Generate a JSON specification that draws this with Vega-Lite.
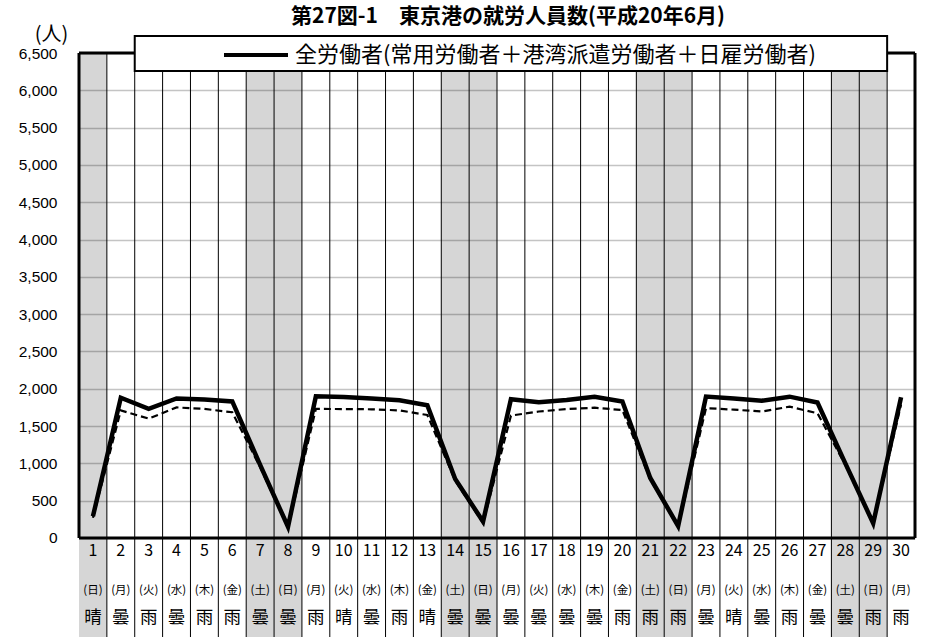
{
  "$schema": "https://vega.github.io/schema/vega-lite/v6.json",
  "autosize": {"type": "none"},
  "padding": {"left": 79, "top": 53, "right": 11, "bottom": 0},
  "width": 836,
  "height": 584,
  "background": "white",
  "title": {
    "text": "第27図-1　東京港の就労人員数(平成20年6月)",
    "font": "Noto Sans CJK JP",
    "fontSize": 21,
    "fontWeight": "bold",
    "color": "#000000",
    "anchor": "middle",
    "frame": "group",
    "dx": 11,
    "dy": 6,
    "offset": 0
  },
  "config": {
    "view": {"stroke": null}
  },
  "data": {
    "values": [
      {"day": 1, "dow": "(日)", "wx": "晴", "weekend": true, "all": 290, "sub": 270},
      {"day": 2, "dow": "(月)", "wx": "曇", "weekend": false, "all": 1880, "sub": 1710},
      {"day": 3, "dow": "(火)", "wx": "雨", "weekend": false, "all": 1730, "sub": 1600},
      {"day": 4, "dow": "(水)", "wx": "曇", "weekend": false, "all": 1870, "sub": 1750},
      {"day": 5, "dow": "(木)", "wx": "雨", "weekend": false, "all": 1855, "sub": 1730},
      {"day": 6, "dow": "(金)", "wx": "雨", "weekend": false, "all": 1830, "sub": 1685},
      {"day": 7, "dow": "(土)", "wx": "曇", "weekend": true, "all": 980, "sub": 950},
      {"day": 8, "dow": "(日)", "wx": "曇", "weekend": true, "all": 150, "sub": 140},
      {"day": 9, "dow": "(月)", "wx": "雨", "weekend": false, "all": 1900, "sub": 1730},
      {"day": 10, "dow": "(火)", "wx": "晴", "weekend": false, "all": 1890, "sub": 1728},
      {"day": 11, "dow": "(水)", "wx": "曇", "weekend": false, "all": 1870, "sub": 1725},
      {"day": 12, "dow": "(木)", "wx": "雨", "weekend": false, "all": 1845, "sub": 1710},
      {"day": 13, "dow": "(金)", "wx": "晴", "weekend": false, "all": 1780, "sub": 1648},
      {"day": 14, "dow": "(土)", "wx": "曇", "weekend": true, "all": 790, "sub": 770},
      {"day": 15, "dow": "(日)", "wx": "曇", "weekend": true, "all": 220, "sub": 200},
      {"day": 16, "dow": "(月)", "wx": "曇", "weekend": false, "all": 1860, "sub": 1640},
      {"day": 17, "dow": "(火)", "wx": "曇", "weekend": false, "all": 1820, "sub": 1695},
      {"day": 18, "dow": "(水)", "wx": "曇", "weekend": false, "all": 1850, "sub": 1728},
      {"day": 19, "dow": "(木)", "wx": "曇", "weekend": false, "all": 1893, "sub": 1746},
      {"day": 20, "dow": "(金)", "wx": "雨", "weekend": false, "all": 1828, "sub": 1715},
      {"day": 21, "dow": "(土)", "wx": "雨", "weekend": true, "all": 805, "sub": 785},
      {"day": 22, "dow": "(日)", "wx": "雨", "weekend": true, "all": 160, "sub": 150},
      {"day": 23, "dow": "(月)", "wx": "曇", "weekend": false, "all": 1895, "sub": 1740},
      {"day": 24, "dow": "(火)", "wx": "晴", "weekend": false, "all": 1870, "sub": 1720},
      {"day": 25, "dow": "(水)", "wx": "曇", "weekend": false, "all": 1840, "sub": 1695},
      {"day": 26, "dow": "(木)", "wx": "雨", "weekend": false, "all": 1894, "sub": 1760},
      {"day": 27, "dow": "(金)", "wx": "曇", "weekend": false, "all": 1815, "sub": 1672},
      {"day": 28, "dow": "(土)", "wx": "曇", "weekend": true, "all": 1000, "sub": 980},
      {"day": 29, "dow": "(日)", "wx": "雨", "weekend": true, "all": 197, "sub": 190},
      {"day": 30, "dow": "(月)", "wx": "雨", "weekend": false, "all": 1885, "sub": 1790}
    ]
  },
  "layer": [
    {
      "mark": {"type": "line", "strokeWidth": 4.5, "opacity": 0},
      "encoding": {
        "x": {"field": "day", "type": "ordinal", "axis": null, "bandPosition": 0.5, "scale": {"type": "band", "paddingInner": 0, "paddingOuter": 0}},
        "y": {
          "field": "all",
          "type": "quantitative",
          "title": "(人)",
          "scale": {"domain": [-1327, 6500], "nice": false, "zero": false},
          "axis": {
            "values": [0, 500, 1000, 1500, 2000, 2500, 3000, 3500, 4000, 4500, 5000, 5500, 6000, 6500],
            "format": ",d",
            "labelFont": "Liberation Sans",
            "labelFontSize": 15.5,
            "labelColor": "#000000",
            "labelPadding": 22,
            "domain": false,
            "ticks": false,
            "grid": true,
            "gridColor": "#c4c4c4",
            "gridWidth": 1.5,
            "title": "(人)",
            "titleFont": "Noto Sans CJK JP",
            "titleFontSize": 20,
            "titleFontWeight": "normal",
            "titleColor": "#000000",
            "titleAngle": 0,
            "titleAlign": "center",
            "titleBaseline": "middle",
            "titleX": -28,
            "titleY": -19
          }
        }
      }
    },
    {
      "transform": [{"filter": "datum.weekend"}],
      "mark": {"type": "rect", "fill": "#000000", "fillOpacity": 0.16},
      "encoding": {
        "x": {"field": "day", "type": "ordinal", "axis": null}
      }
    },
    {
      "transform": [{"filter": "datum.day > 1"}],
      "mark": {"type": "rule", "stroke": "#000000", "strokeWidth": 1},
      "encoding": {
        "x": {"field": "day", "type": "ordinal", "axis": null, "bandPosition": 0}
      }
    },
    {
      "data": {"values": [{}]},
      "mark": {"type": "rule", "stroke": "#000000", "strokeWidth": 3},
      "encoding": {
        "y": {"datum": 0, "type": "quantitative"}
      }
    },
    {
      "data": {"values": [{}]},
      "mark": {"type": "rule", "stroke": "#000000", "strokeWidth": 3},
      "encoding": {
        "y": {"datum": 6500, "type": "quantitative"}
      }
    },
    {
      "data": {"values": [{}]},
      "mark": {"type": "rule", "stroke": "#000000", "strokeWidth": 3},
      "encoding": {
        "x": {"datum": 1, "type": "ordinal", "axis": null, "bandPosition": 0},
        "y": {"datum": 0, "type": "quantitative"},
        "y2": {"datum": 6500}
      }
    },
    {
      "data": {"values": [{}]},
      "mark": {"type": "rule", "stroke": "#000000", "strokeWidth": 3},
      "encoding": {
        "x": {"datum": 30, "type": "ordinal", "axis": null, "bandPosition": 1},
        "y": {"datum": 0, "type": "quantitative"},
        "y2": {"datum": 6500}
      }
    },
    {
      "mark": {"type": "line", "stroke": "#000000", "strokeWidth": 2.2, "strokeDash": [7, 4]},
      "encoding": {
        "x": {"field": "day", "type": "ordinal", "axis": null, "bandPosition": 0.5},
        "y": {"field": "sub", "type": "quantitative"}
      }
    },
    {
      "mark": {"type": "line", "strokeWidth": 4.5, "strokeJoin": "miter"},
      "encoding": {
        "x": {"field": "day", "type": "ordinal", "axis": null, "bandPosition": 0.5},
        "y": {"field": "all", "type": "quantitative"},
        "stroke": {
          "datum": "全労働者(常用労働者＋港湾派遣労働者＋日雇労働者)",
          "type": "nominal",
          "scale": {"range": ["#000000"]},
          "legend": {
            "orient": "none",
            "legendX": 143,
            "legendY": -32,
            "title": null,
            "padding": 0,
            "symbolType": "stroke",
            "symbolSize": 4096,
            "symbolStrokeWidth": 4,
            "symbolStrokeColor": "#000000",
            "labelFont": "Noto Sans CJK JP",
            "labelFontSize": 22,
            "labelColor": "#000000",
            "labelOffset": 5,
            "labelLimit": 1000
          }
        }
      }
    },
    {
      "data": {"values": [{}]},
      "mark": {"type": "rect", "fill": "#ffffff", "stroke": "#000000", "strokeWidth": 2},
      "encoding": {
        "x": {"datum": 3, "type": "ordinal", "axis": null, "bandPosition": 0},
        "x2": {"datum": 30, "bandPosition": 0},
        "y": {"datum": 6727, "type": "quantitative"},
        "y2": {"datum": 6258}
      }
    },
    {
      "mark": {"type": "text", "font": "Noto Sans CJK JP", "fontSize": 16, "color": "#000000", "baseline": "middle", "align": "center"},
      "encoding": {
        "x": {"field": "day", "type": "ordinal", "axis": null, "bandPosition": 0.5},
        "y": {"datum": -174, "type": "quantitative"},
        "text": {"field": "day"}
      }
    },
    {
      "mark": {"type": "text", "font": "Noto Sans CJK JP", "fontSize": 11.5, "color": "#000000", "baseline": "middle", "align": "center"},
      "encoding": {
        "x": {"field": "day", "type": "ordinal", "axis": null, "bandPosition": 0.5},
        "y": {"datum": -710, "type": "quantitative"},
        "text": {"field": "dow"}
      }
    },
    {
      "mark": {"type": "text", "font": "Noto Sans CJK JP", "fontSize": 17.5, "color": "#000000", "baseline": "middle", "align": "center"},
      "encoding": {
        "x": {"field": "day", "type": "ordinal", "axis": null, "bandPosition": 0.5},
        "y": {"datum": -1072, "type": "quantitative"},
        "text": {"field": "wx"}
      }
    }
  ]
}
